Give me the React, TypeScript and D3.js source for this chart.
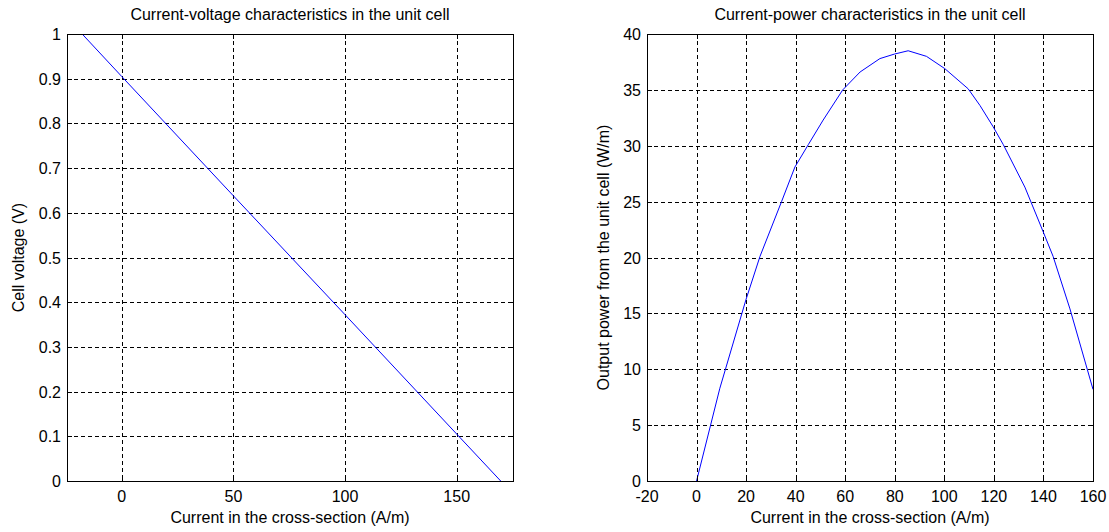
import React, { useEffect, useRef } from "react";
import * as d3 from "d3";

// left panel: cell voltage vs current
const voltageCurrent = [-17.7, 0, 50, 100, 150, 169.7];
const voltageValues = [1, 0.905, 0.638, 0.372, 0.105, 0];
const leftXTicks = [0, 50, 100, 150];
const leftYTicks = [0, 0.1, 0.2, 0.3, 0.4, 0.5, 0.6, 0.7, 0.8, 0.9, 1];

// right panel: output power vs current
const powerCurrent = [0, 9.4, 19.9, 25.6, 34.3, 39.7, 45.1, 51.1, 59, 66, 74, 79.8, 85.4, 92.8, 100.2, 109.6, 114.4, 119.7, 123.8, 132.5, 139.9, 143.9, 150.7, 160];
const powerValues = [0, 8.3, 16.2, 20.1, 25.0, 28.1, 30.1, 32.3, 35.0, 36.6, 37.8, 38.2, 38.5, 38.0, 36.9, 35.1, 33.6, 31.7, 30.1, 26.3, 22.3, 20.1, 15.4, 8.2];
const rightXTicks = [-20, 0, 20, 40, 60, 80, 100, 120, 140, 160];
const rightYTicks = [0, 5, 10, 15, 20, 25, 30, 35, 40];

const font = "Arial, 'Liberation Sans', sans-serif";
const fs = 16;

type Panel = {
  left: number;
  right: number;
  xDomain: [number, number];
  yDomain: [number, number];
  xTicks: number[];
  yTicks: number[];
  xs: number[];
  ys: number[];
  title: string;
  xLabel: string;
  yLabel: string;
  yLabelX: number;
};

const top = 34;
const bottom = 481;

function drawPanel(svg: d3.Selection<SVGSVGElement, unknown, null, undefined>, p: Panel) {
  const x = d3.scaleLinear().domain(p.xDomain).range([p.left, p.right]);
  const y = d3.scaleLinear().domain(p.yDomain).range([bottom, top]);
  const g = svg.append("g");

  // grid
  g.selectAll(".vgrid")
    .data(p.xTicks.filter((t) => t > p.xDomain[0] && t < p.xDomain[1]))
    .join("line")
    .attr("x1", (d) => Math.round(x(d)) + 0.5)
    .attr("x2", (d) => Math.round(x(d)) + 0.5)
    .attr("y1", top)
    .attr("y2", bottom)
    .attr("stroke", "#000")
    .attr("stroke-dasharray", "4,3");
  g.selectAll(".hgrid")
    .data(p.yTicks.filter((t) => t > p.yDomain[0] && t < p.yDomain[1]))
    .join("line")
    .attr("x1", p.left)
    .attr("x2", p.right)
    .attr("y1", (d) => Math.round(y(d)) + 0.5)
    .attr("y2", (d) => Math.round(y(d)) + 0.5)
    .attr("stroke", "#000")
    .attr("stroke-dasharray", "4,3");

  // data line, clipped to the axes
  const clipId = `clip-${p.left}`;
  svg.append("clipPath").attr("id", clipId)
    .append("rect")
    .attr("x", p.left).attr("y", top)
    .attr("width", p.right - p.left).attr("height", bottom - top);
  const line = d3.line<number>()
    .x((_, i) => x(p.xs[i]))
    .y((d) => y(d));
  g.append("path")
    .attr("clip-path", `url(#${clipId})`)
    .attr("d", line(p.ys))
    .attr("fill", "none")
    .attr("stroke", "#0000ff")
    .attr("stroke-width", 1);

  // box and inward ticks
  g.append("rect")
    .attr("x", p.left + 0.5).attr("y", top + 0.5)
    .attr("width", p.right - p.left).attr("height", bottom - top)
    .attr("fill", "none").attr("stroke", "#000");
  const tl = 5;
  p.xTicks.forEach((t) => {
    const xx = Math.round(x(t)) + 0.5;
    g.append("line").attr("x1", xx).attr("x2", xx).attr("y1", bottom).attr("y2", bottom - tl).attr("stroke", "#000");
    g.append("line").attr("x1", xx).attr("x2", xx).attr("y1", top).attr("y2", top + tl).attr("stroke", "#000");
  });
  p.yTicks.forEach((t) => {
    const yy = Math.round(y(t)) + 0.5;
    g.append("line").attr("x1", p.left).attr("x2", p.left + tl).attr("y1", yy).attr("y2", yy).attr("stroke", "#000");
    g.append("line").attr("x1", p.right).attr("x2", p.right - tl).attr("y1", yy).attr("y2", yy).attr("stroke", "#000");
  });

  // tick labels
  g.selectAll(".xt")
    .data(p.xTicks)
    .join("text")
    .attr("x", (d) => x(d))
    .attr("y", bottom + 21)
    .attr("text-anchor", "middle")
    .attr("font-family", font)
    .attr("font-size", fs)
    .text((d) => String(d));
  g.selectAll(".yt")
    .data(p.yTicks)
    .join("text")
    .attr("x", p.left - 6)
    .attr("y", (d) => y(d) + 6)
    .attr("text-anchor", "end")
    .attr("font-family", font)
    .attr("font-size", fs)
    .text((d) => String(d));

  // titles
  const cx = (p.left + p.right) / 2;
  g.append("text").attr("x", cx).attr("y", 20).attr("text-anchor", "middle")
    .attr("font-family", font).attr("font-size", fs).text(p.title);
  g.append("text").attr("x", cx).attr("y", bottom + 42).attr("text-anchor", "middle")
    .attr("font-family", font).attr("font-size", fs).text(p.xLabel);
  g.append("text")
    .attr("transform", `translate(${p.yLabelX},${(top + bottom) / 2}) rotate(-90)`)
    .attr("text-anchor", "middle")
    .attr("font-family", font).attr("font-size", fs).text(p.yLabel);
}

export default function App() {
  const ref = useRef<SVGSVGElement>(null);

  useEffect(() => {
    const svg = d3.select(ref.current!);
    svg.selectAll("*").remove();

    drawPanel(svg, {
      left: 67,
      right: 513,
      xDomain: [-24.5, 175.2],
      yDomain: [0, 1],
      xTicks: leftXTicks,
      yTicks: leftYTicks,
      xs: voltageCurrent,
      ys: voltageValues,
      title: "Current-voltage characteristics in the unit cell",
      xLabel: "Current in the cross-section (A/m)",
      yLabel: "Cell voltage (V)",
      yLabelX: 24,
    });

    drawPanel(svg, {
      left: 647,
      right: 1093,
      xDomain: [-20, 160],
      yDomain: [0, 40],
      xTicks: rightXTicks,
      yTicks: rightYTicks,
      xs: powerCurrent,
      ys: powerValues,
      title: "Current-power characteristics in the unit cell",
      xLabel: "Current in the cross-section (A/m)",
      yLabel: "Output power from the unit cell (W/m)",
      yLabelX: 609,
    });
  }, []);

  return (
    <svg
      ref={ref}
      width={1109}
      height={532}
      style={{ position: "absolute", left: 0, top: 0, background: "#fff" }}
    />
  );
}
